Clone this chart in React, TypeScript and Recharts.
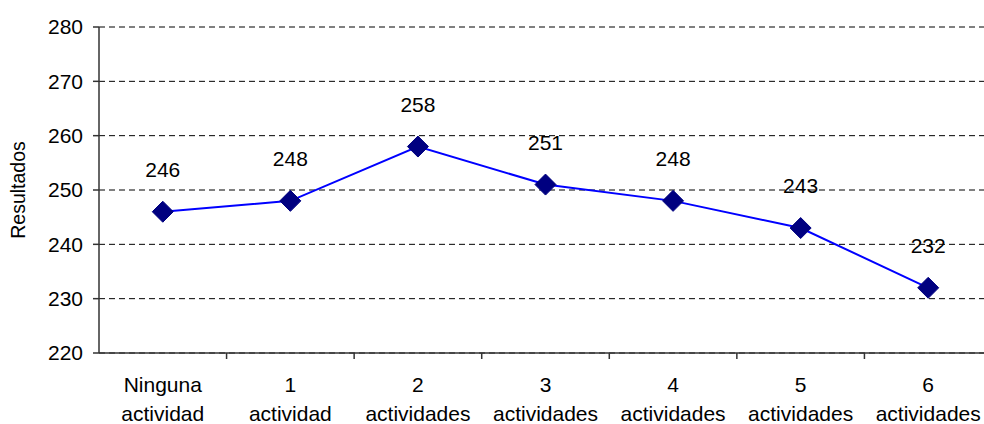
import { LineChart, Line, XAxis, YAxis, CartesianGrid, LabelList } from 'recharts';

// categories split in two lines, as in the picture
const categoryTop = ['Ninguna', '1', '2', '3', '4', '5', '6'];
const categoryBottom = ['actividad', 'actividad', 'actividades', 'actividades', 'actividades', 'actividades', 'actividades'];
const resultados = [246, 248, 258, 251, 248, 243, 232];
const yTicks = [220, 230, 240, 250, 260, 270, 280];

const data = resultados.map((value, idx) => ({ idx, value }));
// tick marks sit between the categories, labels sit on them
const boundaryTicks = categoryTop.slice(1).map((_, i) => i + 0.5);
const xTicks = [...categoryTop.map((_, i) => i), ...boundaryTicks].sort((a, b) => a - b);

const FONT = 'Liberation Sans, Arial, sans-serif';
const AXIS = '#333';

const XTick = (props: any) => {
    const { x, y, payload } = props;
    const v = payload.value;
    if (!Number.isInteger(v)) {
        return <line x1={x} x2={x} y1={y} y2={y + 6} stroke={AXIS} strokeWidth={1.5} />;
    }
    return (
        <text x={x} y={y} textAnchor="middle" fontSize={21} fontFamily={FONT} fill="#000">
            <tspan x={x} dy={39}>{categoryTop[v]}</tspan>
            <tspan x={x} dy={29}>{categoryBottom[v]}</tspan>
        </text>
    );
};

const Diamond = (props: any) => {
    const { cx, cy } = props;
    if (cx == null || cy == null) return null;
    const r = 10.5;
    return (
        <path
            d={`M${cx},${cy - r} L${cx + r},${cy} L${cx},${cy + r} L${cx - r},${cy} Z`}
            fill="#000080"
            stroke="#000080"
        />
    );
};

const ValueLabel = (props: any) => {
    const { x, y, value } = props;
    return (
        <text x={x} y={y - 35} textAnchor="middle" fontSize={21} fontFamily={FONT} fill="#000">
            {value}
        </text>
    );
};

const App = () => {
    return (
        <div style={{ position: 'absolute', left: 0, top: 0, width: 984, height: 424, overflow: 'hidden', background: '#fff' }}>
            <LineChart width={1000} height={424} data={data} margin={{ top: 27, right: 8, bottom: 0, left: 29 }}>
                <CartesianGrid vertical={false} stroke="#000" strokeDasharray="6 4" />
                <XAxis
                    dataKey="idx"
                    type="number"
                    domain={[-0.5, 6.5]}
                    ticks={xTicks}
                    interval={0}
                    tickLine={false}
                    tickSize={0}
                    tickMargin={0}
                    height={71}
                    tick={<XTick />}
                    stroke={AXIS}
                    strokeWidth={1.5}
                />
                <YAxis
                    domain={[220, 280]}
                    ticks={yTicks}
                    interval={0}
                    width={70}
                    tickSize={6}
                    tickMargin={10}
                    stroke={AXIS}
                    strokeWidth={1.5}
                    tick={{ fontSize: 21, fontFamily: FONT, fill: '#000' }}
                    label={{
                        content: ({ viewBox }: any) => (
                            <text
                                x={18}
                                y={viewBox.y + viewBox.height / 2}
                                transform={`rotate(-90, 18, ${viewBox.y + viewBox.height / 2})`}
                                textAnchor="middle"
                                dominantBaseline="central"
                                fontSize={19.5}
                                fontFamily={FONT}
                                fill="#000"
                            >
                                Resultados
                            </text>
                        ),
                    }}
                />
                <Line
                    dataKey="value"
                    stroke="#0000FF"
                    strokeWidth={2}
                    dot={<Diamond />}
                    activeDot={false}
                    isAnimationActive={false}
                >
                    <LabelList dataKey="value" content={<ValueLabel />} />
                </Line>
            </LineChart>
        </div>
    );
};

export default App;
